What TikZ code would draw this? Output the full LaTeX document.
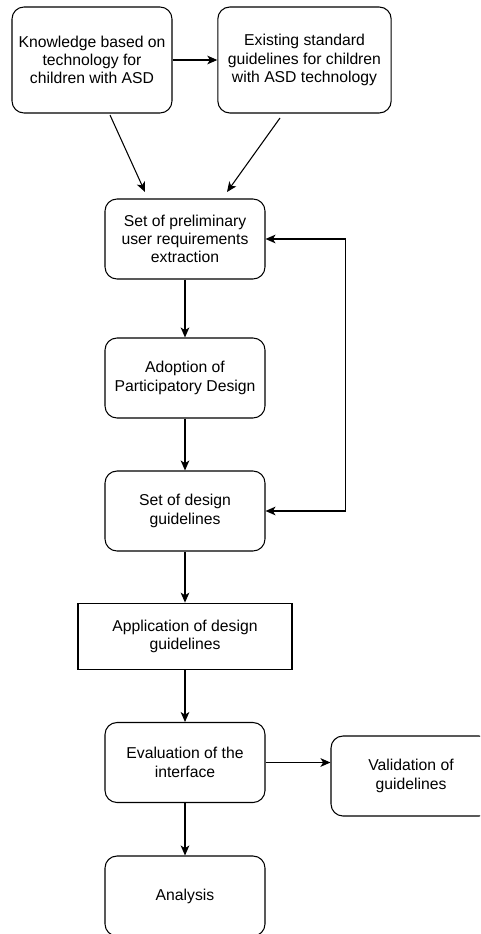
\documentclass[tikz,border=0pt]{standalone}
\usepackage{fontspec}
\setmainfont{Liberation Sans}
\usetikzlibrary{arrows.meta}

\begin{document}
\begin{tikzpicture}[
            x = 0.75pt, y = -0.75pt,
            box/.style = {draw, line width = 0.8pt, rounded corners = 9pt, align = center,
                          inner sep = 0pt, minimum width = 120pt, minimum height = 60pt,
                          font = \fontsize{11.8}{13.7}\selectfont},
            plainbox/.style = {box, sharp corners},
            arr/.style = {draw, line width = 0.8pt, -{Stealth[length = 7.5pt, width = 6.5pt, inset = 2pt]}},
            arrboth/.style = {arr, {Stealth[length = 7.5pt, width = 6.5pt, inset = 2pt]}-{Stealth[length = 7.5pt, width = 6.5pt, inset = 2pt]}},
        ]
        \clip (0,0) rectangle (480,934);

        \node (KB) [box, minimum height = 79.5pt] at (92,60) {Knowledge based on\\technology for\\children with ASD};
        \node (ESG) [box, minimum width = 130pt, minimum height = 79.5pt] at (304.5,60) {Existing standard\\guidelines for children\\with ASD technology};

        \node (PRE) [box] at (185,239) {Set of preliminary\\user requirements\\extraction};
        \node (PD) [box] at (185,378) {Adoption of\\Participatory Design};
        \node (SDG) [box] at (185,511) {Set of design\\guidelines};
        \node (APP) [plainbox, minimum width = 160.5pt, minimum height = 50pt] at (185,636.5) {Application of design\\guidelines};
        \node (EVAL) [box] at (185,762.5) {Evaluation of the\\interface};
        \node (VAL) [box] at (411,776) {Validation of\\guidelines};
        \node (ANA) [box] at (185,896) {Analysis};

        \coordinate (KB0) at (110,115);
        \coordinate (KB1) at (145,192);
        \coordinate (ESG0) at (280,118);
        \coordinate (ESG1) at (227,192);

        \path[arr] (KB) -- (ESG);
        \path[arr] (KB0) -- (KB1);
        \path[arr] (ESG0) -- (ESG1);

        \path[arr] (PRE) -- (PD);
        \path[arr] (PD) -- (SDG);
        \path[arrboth] (SDG.east) -- ++(80,0) |- (PRE.east);

        \path[arr] (SDG) -- (APP);
        \path[arr] (APP) -- (EVAL);
        \path[arr] (EVAL.east) -- (EVAL.east -| VAL.west);
        \path[arr] (EVAL) -- (ANA);
    \end{tikzpicture}
\end{document}
